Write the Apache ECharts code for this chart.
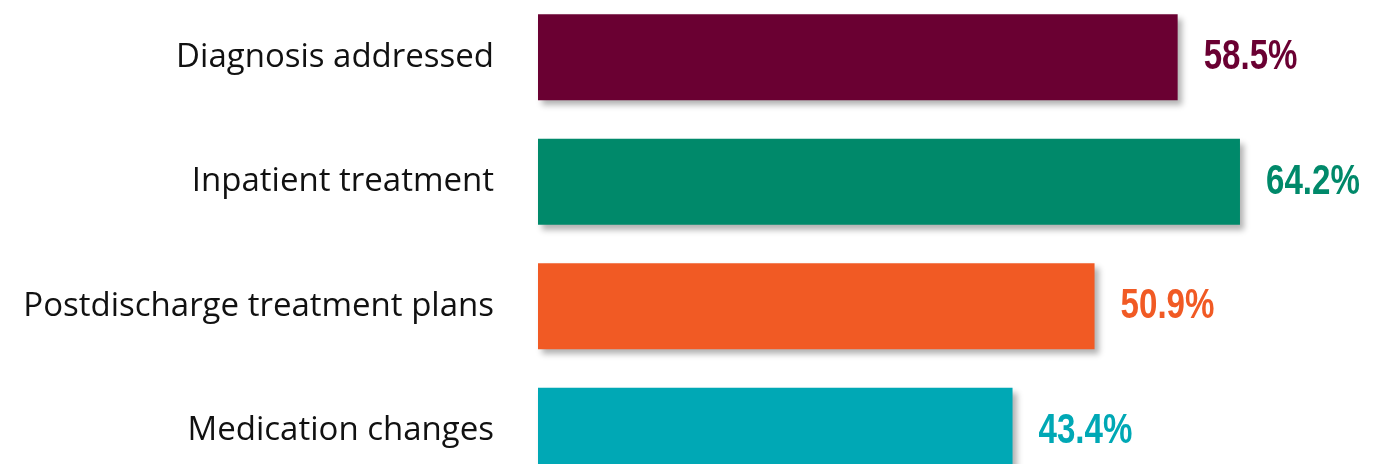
<!DOCTYPE html>
<html>
<head>
<meta charset="utf-8">
<script src="https://cdn.jsdelivr.net/npm/echarts@6/dist/echarts.min.js"></script>
<style>
  html, body { margin: 0; padding: 0; background: #fff; overflow: hidden; }
  #chart { width: 1376px; height: 500px; margin-top: -5px; }
</style>
</head>
<body>
<div id="chart"></div>
<script>
var categories = ['Diagnosis addressed', 'Inpatient treatment', 'Postdischarge treatment plans', 'Medication changes'];
var values = [58.5, 64.2, 50.9, 43.4];
var colors = ['#6A0032', '#00896A', '#F15A24', '#00A8B5'];

var myChart = echarts.init(document.getElementById('chart'));

var option = {
    animation: false,
    grid: {
        left: 538,
        width: 831,
        top: 0,
        height: 498
    },
    xAxis: {
        type: 'value',
        min: 0,
        max: 76,
        show: false
    },
    yAxis: {
        type: 'category',
        inverse: true,
        data: categories,
        axisLine: { show: false },
        axisTick: { show: false },
        axisLabel: {
            margin: 44,
            color: '#111',
            fontSize: 33,
            fontFamily: 'Open Sans'
        }
    },
    series: [{
        type: 'bar',
        barWidth: 86,
        data: values.map(function (v, i) {
            return {
                value: v,
                itemStyle: {
                    color: colors[i],
                    shadowColor: 'rgba(0,0,0,0.3)',
                    shadowBlur: 6,
                    shadowOffsetX: 4,
                    shadowOffsetY: 5
                }
            };
        })
    }, {
        // value labels, narrowed to look like a condensed face
        type: 'custom',
        data: values.map(function (v, i) { return [v, i]; }),
        encode: { x: 0, y: 1 },
        renderItem: function (params, api) {
            var idx = params.dataIndex;
            var pt = api.coord([api.value(0), api.value(1)]);
            return {
                type: 'text',
                x: pt[0] + 26,
                y: pt[1],
                scaleX: 0.77,
                style: {
                    text: values[idx].toFixed(1) + '%',
                    fill: colors[idx],
                    font: 'bold 43px "Liberation Sans"',
                    textAlign: 'left',
                    textVerticalAlign: 'middle',
                    align: 'left',
                    verticalAlign: 'middle'
                }
            };
        }
    }]
};
myChart.setOption(option);
</script>
</body>
</html>
